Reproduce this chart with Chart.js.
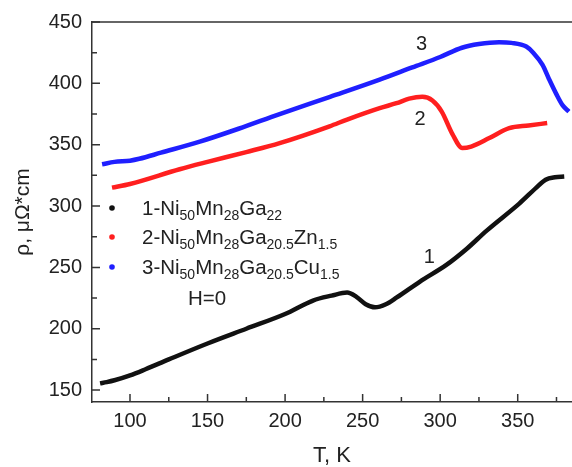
<!DOCTYPE html>
<html>
<head>
<meta charset="utf-8">
<script src="https://cdn.jsdelivr.net/npm/chart.js@4.4.1/dist/chart.umd.min.js"></script>
<style>
  html, body { margin: 0; padding: 0; background: #fff; }
  #wrap { width: 572px; height: 467px; position: relative; }
</style>
</head>
<body>
<div id="wrap"><canvas id="chart"></canvas></div>
<script>
// sample 1 - Ni50Mn28Ga22
const t1 = [80.7, 85, 90, 100, 110, 125, 150, 175, 200, 218, 230, 240, 246, 252, 258, 265, 272, 287, 304, 317, 330, 351, 362, 368, 374, 380];
const rho1 = [155.5, 156.5, 158, 162, 167, 175, 188, 200, 212, 223, 227, 229.5, 226, 220, 217.5, 220, 225.5, 238.5, 252, 265, 280, 302, 315, 321.5, 323.5, 324];

// sample 2 - Zn
const t2 = [88.4, 100, 132, 150, 175, 196.5, 228.7, 240, 261, 271.8, 280, 288.5, 295, 301, 308, 314.3, 320, 331.7, 344.5, 357, 369];
const rho2 = [315, 318, 330, 336, 344, 351.3, 365, 370.5, 379.8, 383.8, 387.5, 389, 386, 377, 358.4, 347.3, 348.5, 355.4, 363.5, 365.7, 367.6];

// sample 3 - Cu
const t3 = [82, 90, 100, 106, 120, 145, 170, 196.5, 229, 261, 282, 300, 314, 325, 338, 346, 355.5, 360, 366, 370, 375, 379, 383];
const rho3 = [334, 336, 337, 338.5, 343.5, 352.5, 363, 375, 389, 403, 413, 421.5, 429, 432, 433.5, 433, 430, 425, 415, 404, 391, 382, 377];

const xTicks = [100, 150, 200, 250, 300, 350];
const yTicks = [150, 200, 250, 300, 350, 400, 450];
const xMinor = [125, 175, 225, 275, 325, 375];
const yMinor = [175, 225, 275, 325, 375, 425];

const colors = ['#111111', '#ff1f1f', '#1f1fff'];
const legendRows = [
    [['1-Ni', 0], ['50', 1], ['Mn', 0], ['28', 1], ['Ga', 0], ['22', 1]],
    [['2-Ni', 0], ['50', 1], ['Mn', 0], ['28', 1], ['Ga', 0], ['20.5', 1], ['Zn', 0], ['1.5', 1]],
    [['3-Ni', 0], ['50', 1], ['Mn', 0], ['28', 1], ['Ga', 0], ['20.5', 1], ['Cu', 0], ['1.5', 1]]
];
const curveLabels = ['1', '2', '3'];
const curveLabelT = [293, 287, 288];
const curveLabelRho = [258, 370.5, 431.5];

const FONT = '"Liberation Sans", Arial, sans-serif';
const TEXT = '#222';

function toPoints(xs, ys) {
    return xs.map((x, i) => ({ x: x, y: ys[i] }));
}

const extras = {
    id: 'extras',
    afterDraw(chart) {
        const ctx = chart.ctx;
        const area = chart.chartArea;
        const xs = chart.scales.x;
        const ys = chart.scales.y;
        ctx.save();
        ctx.strokeStyle = '#333';
        ctx.lineWidth = 1.5;

        // top frame line
        ctx.beginPath();
        ctx.moveTo(area.left, area.top);
        ctx.lineTo(area.right, area.top);
        ctx.stroke();

        // inward ticks
        ctx.beginPath();
        xTicks.forEach(v => { const p = xs.getPixelForValue(v); ctx.moveTo(p, area.bottom); ctx.lineTo(p, area.bottom - 8); });
        xMinor.forEach(v => { const p = xs.getPixelForValue(v); ctx.moveTo(p, area.bottom); ctx.lineTo(p, area.bottom - 5); });
        yTicks.forEach(v => { const p = ys.getPixelForValue(v); ctx.moveTo(area.left, p); ctx.lineTo(area.left + 8, p); });
        yMinor.forEach(v => { const p = ys.getPixelForValue(v); ctx.moveTo(area.left, p); ctx.lineTo(area.left + 5, p); });
        ctx.stroke();

        // curve numbers
        ctx.fillStyle = TEXT;
        ctx.font = '20px ' + FONT;
        ctx.textAlign = 'center';
        ctx.textBaseline = 'middle';
        curveLabels.forEach((s, i) => {
            ctx.fillText(s, xs.getPixelForValue(curveLabelT[i]), ys.getPixelForValue(curveLabelRho[i]));
        });

        // legend
        const rowY = [208, 237, 267];
        ctx.textAlign = 'left';
        ctx.textBaseline = 'alphabetic';
        legendRows.forEach((row, i) => {
            const y = rowY[i];
            ctx.fillStyle = colors[i];
            ctx.beginPath();
            ctx.arc(area.left + 20, y, 2.8, 0, Math.PI * 2);
            ctx.fill();
            ctx.fillStyle = TEXT;
            let x = area.left + 50;
            row.forEach(([txt, sub]) => {
                ctx.font = (sub ? '14px ' : '20.5px ') + FONT;
                ctx.fillText(txt, x, y + (sub ? 12 : 7));
                x += ctx.measureText(txt).width;
            });
        });
        ctx.font = '20.5px ' + FONT;
        ctx.textAlign = 'center';
        ctx.fillText('H=0', area.left + 115, 305);
        ctx.restore();
    }
};

const ctx = document.getElementById('chart').getContext('2d');
new Chart(ctx, {
    type: 'line',
    data: {
        datasets: [
            { data: toPoints(t1, rho1), borderColor: colors[0] },
            { data: toPoints(t2, rho2), borderColor: colors[1] },
            { data: toPoints(t3, rho3), borderColor: colors[2] }
        ].map(d => Object.assign(d, {
            borderWidth: 4.5,
            pointRadius: 0,
            fill: false,
            cubicInterpolationMode: 'monotone'
        }))
    },
    options: {
        responsive: true,
        maintainAspectRatio: false,
        animation: false,
        layout: { padding: { top: 20, right: 0, bottom: 0, left: 0 } },
        plugins: { legend: { display: false }, tooltip: { enabled: false } },
        scales: {
            x: {
                type: 'linear',
                min: 75.5,
                max: 385,
                afterBuildTicks: s => { s.ticks = xTicks.map(v => ({ value: v })); },
                afterFit: s => { s.height = 65; },
                grid: { display: false, drawTicks: false },
                border: { display: true, color: '#333', width: 1.5 },
                ticks: { padding: 7, color: TEXT, font: { family: FONT, size: 20 } },
                title: { display: true, text: 'T, K', color: TEXT, padding: { top: 0, bottom: -2 }, font: { family: FONT, size: 22 } }
            },
            y: {
                min: 140.3,
                max: 450,
                afterBuildTicks: s => { s.ticks = yTicks.map(v => ({ value: v })); },
                afterFit: s => { s.width = 92; },
                grid: { display: false, drawTicks: false },
                border: { display: true, color: '#333', width: 1.5 },
                ticks: { padding: 10, color: TEXT, font: { family: FONT, size: 20 } },
                title: { display: true, text: 'ρ, μΩ*cm', color: TEXT, padding: { top: 11, bottom: 0 }, font: { family: FONT, size: 21 } }
            }
        }
    },
    plugins: [extras]
});
</script>
</body>
</html>
